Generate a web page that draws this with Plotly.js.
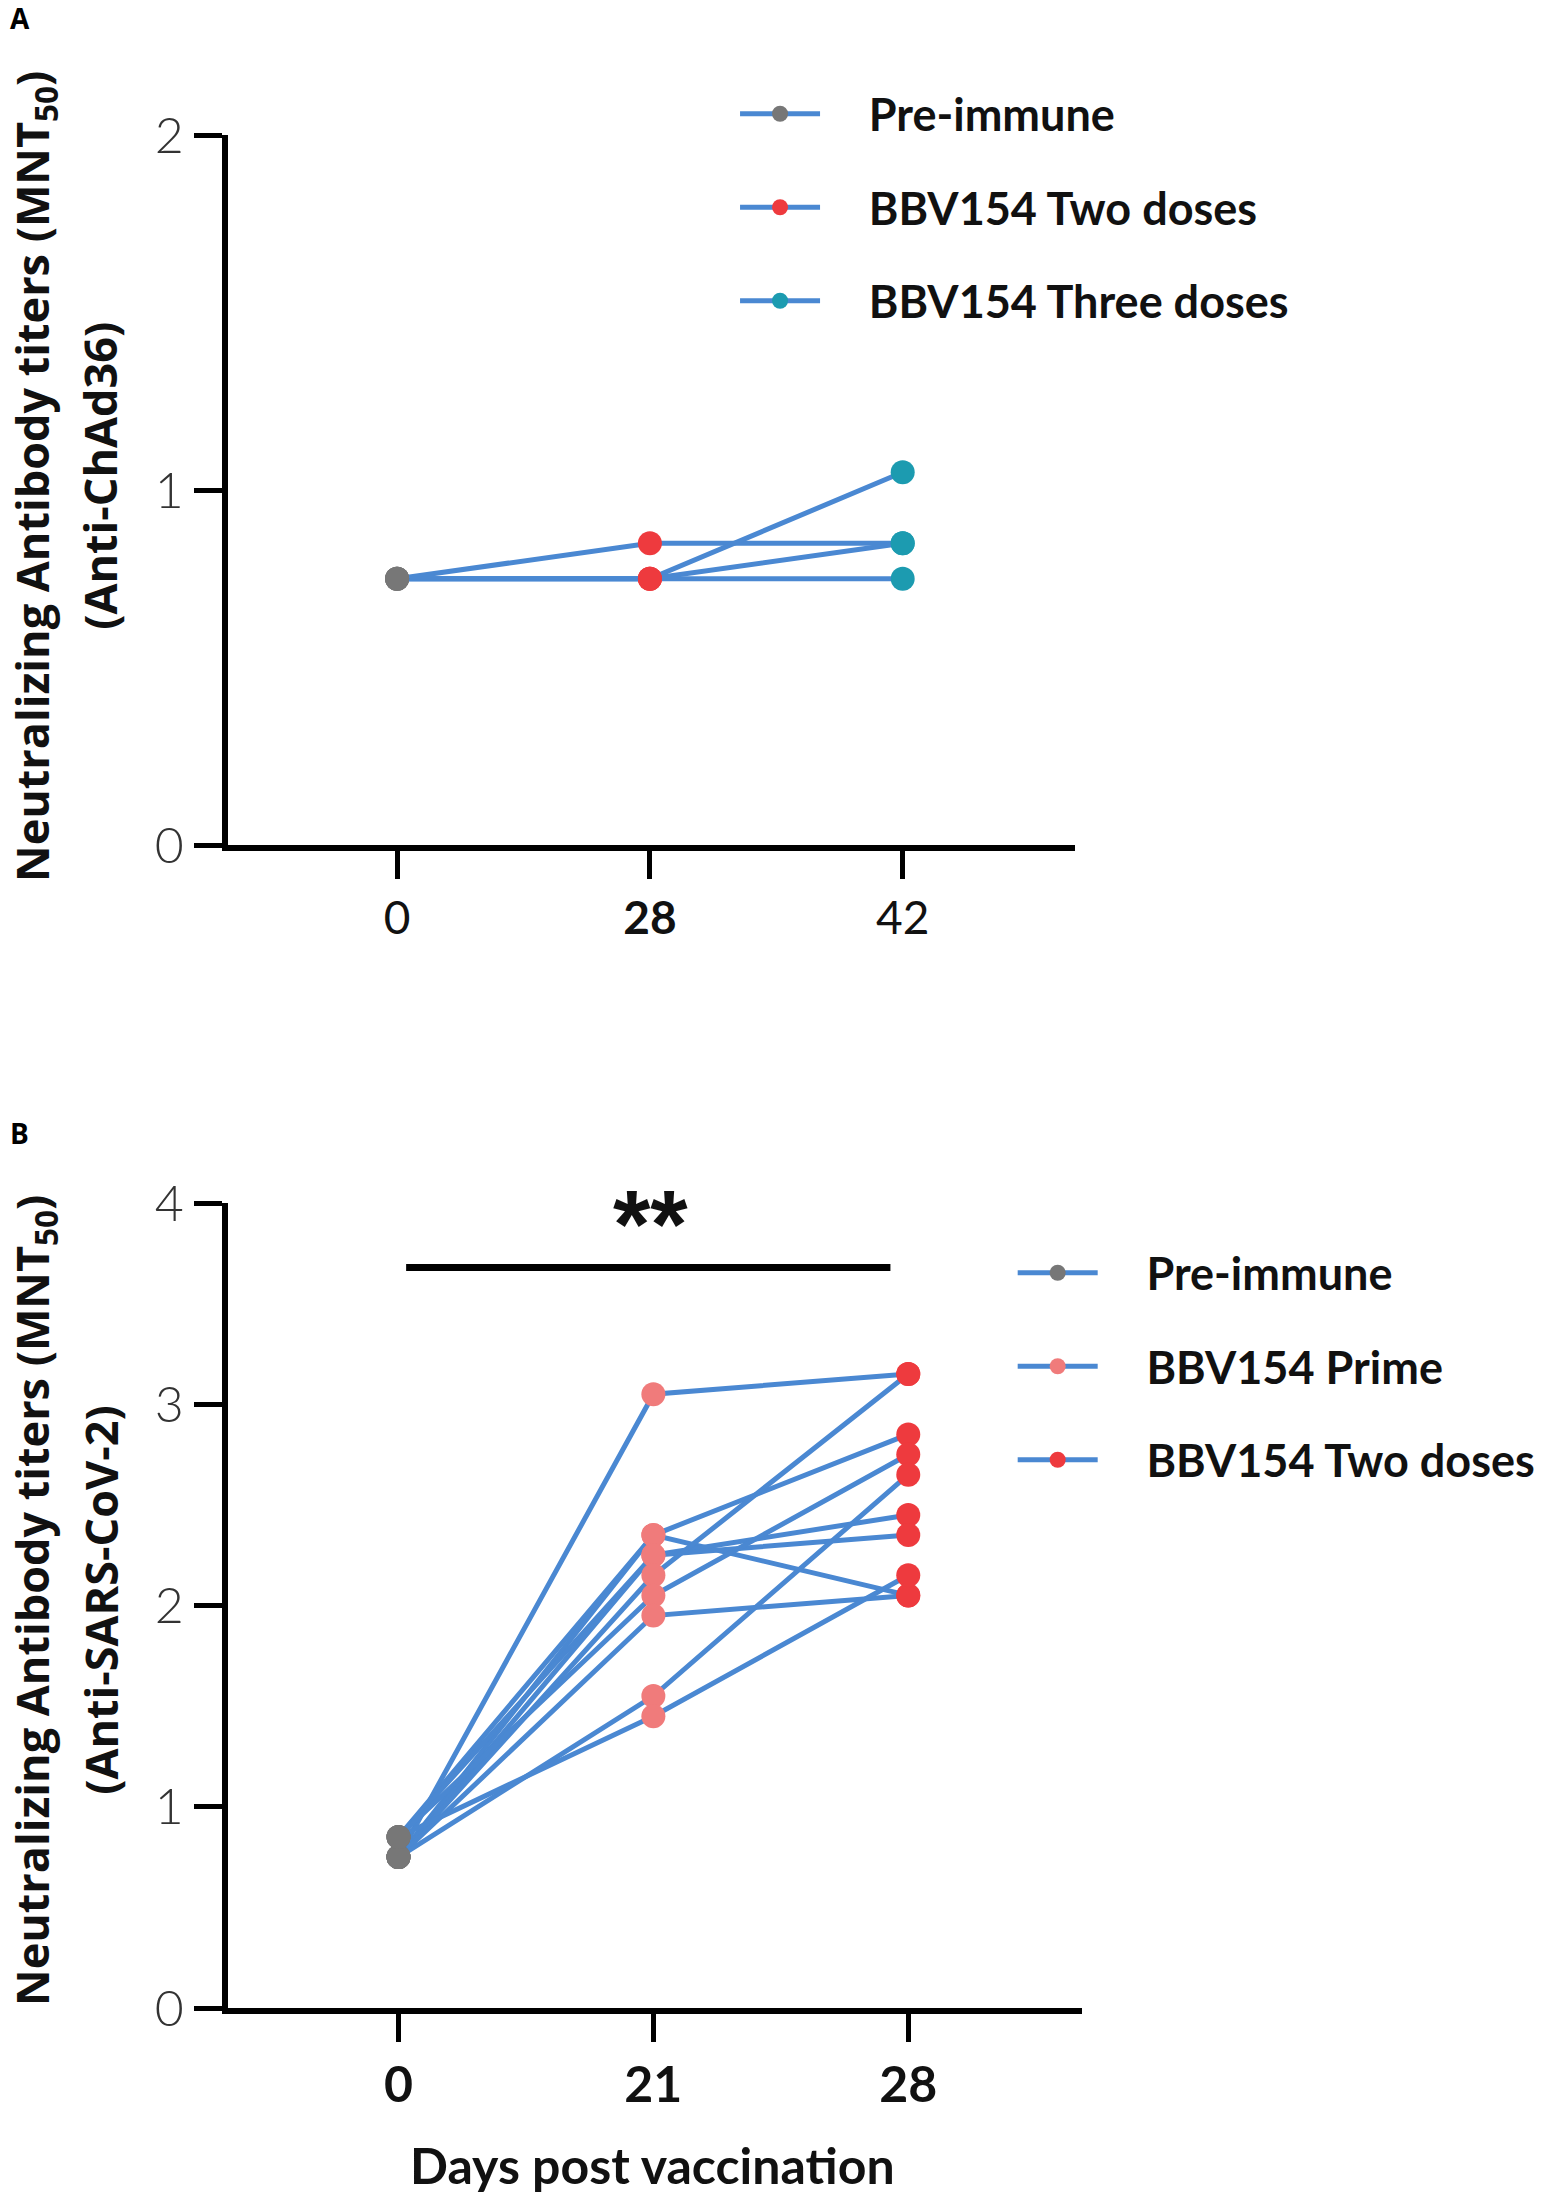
<!DOCTYPE html>
<html>
<head>
<meta charset="utf-8">
<script src="https://cdn.plot.ly/plotly-3.0.1.min.js"></script>
<style>
  body { margin: 0; background: #fff; }
  #graph { width: 1541px; height: 2200px; }
</style>
</head>
<body>
<div id="graph"></div>
<script>
/* ----- Data: panel A (anti-ChAd36) ----- */
var daysA = ['0', '28', '42'];
var preImmuneA = [0.75, 0.75, 0.75, 0.75];
var twoDosesA = [0.85, 0.75, 0.75, 0.75];
var threeDosesA = [0.85, 1.05, 0.85, 0.75];
var namesA = ['Pre-immune', 'BBV154 Two doses', 'BBV154 Three doses'];
var tickTextA = ['0', '<b>28</b>', '42'];
var yTicksA = [0, 1, 2];

/* ----- Data: panel B (anti-SARS-CoV-2) ----- */
var daysB = ['0', '21', '28'];
var preImmuneB = [0.75, 0.85, 0.75, 0.85, 0.75, 0.75, 0.85, 0.75, 0.75, 0.85];
var primeB = [3.05, 2.35, 2.35, 2.25, 2.25, 2.15, 2.05, 1.95, 1.55, 1.45];
var twoDosesB = [3.15, 2.85, 2.05, 2.45, 2.35, 3.15, 2.75, 2.05, 2.65, 2.15];
var namesB = ['Pre-immune', 'BBV154 Prime', 'BBV154 Two doses'];
var tickTextB = ['<b>0</b>', '<b>21</b>', '<b>28</b>'];
var yTicksB = [0, 1, 2, 3, 4];

/* ----- Styles ----- */
var LINE_BLUE = '#4a88d2';
var GREY = '#777777';
var PINK = '#f07b7b';
var RED = '#ee3a3e';
var TEAL = '#1c9bb0';
var LEGEND_PAD = '\u00a0\u00a0\u00a0\u00a0';

var W = 1541, H = 2200;
function px(x) { return x / W; }
function py(y) { return 1 - y / H; }

/**
 * One line per subject, joining its value at each time point.
 */
function subjectLines(days, groups, xa, ya) {
    var traces = [];
    for (var i = 0; i < groups[0].length; i++) {
        traces.push({
            x: days,
            y: groups.map(function(g) { return g[i]; }),
            xaxis: xa, yaxis: ya,
            mode: 'lines',
            line: {color: LINE_BLUE, width: 5},
            showlegend: false,
            hoverinfo: 'skip'
        });
    }
    return traces;
}

/**
 * The dots of one group; nulls keep them unconnected so the legend
 * still shows the line-and-dot symbol.
 */
function groupDots(day, values, name, color, legendId, xa, ya) {
    var xs = [], ys = [];
    values.forEach(function(v) { xs.push(day, day); ys.push(v, null); });
    return {
        x: xs, y: ys,
        xaxis: xa, yaxis: ya,
        name: LEGEND_PAD + name,
        legend: legendId,
        legendgroup: legendId + name,
        mode: 'lines+markers',
        line: {color: LINE_BLUE, width: 5},
        marker: {color: color, size: 24},
        connectgaps: false
    };
}

var groupsA = [preImmuneA, twoDosesA, threeDosesA];
var groupsB = [preImmuneB, primeB, twoDosesB];
var coloursA = [GREY, RED, TEAL];
var coloursB = [GREY, PINK, RED];

var data = [].concat(
    subjectLines(daysA, groupsA, 'x', 'y'),
    subjectLines(daysB, groupsB, 'x2', 'y2')
);
groupsA.forEach(function(g, k) {
    data.push(groupDots(daysA[k], g, namesA[k], coloursA[k], 'legend', 'x', 'y'));
});
groupsB.forEach(function(g, k) {
    data.push(groupDots(daysB[k], g, namesB[k], coloursB[k], 'legend2', 'x2', 'y2'));
});

/* ----- Axes ----- */
function xAxis(days, tickText, domain, anchor, size) {
    return {
        domain: domain,
        anchor: anchor,
        type: 'category',
        categoryorder: 'array',
        categoryarray: days,
        range: [-0.67, 2.68],
        tickmode: 'array',
        tickvals: days,
        ticktext: tickText,
        ticks: 'outside', ticklen: 28, tickwidth: 5, tickcolor: '#000',
        showline: true, linewidth: 6, linecolor: '#000',
        showgrid: false, zeroline: false,
        tickfont: {family: 'Lato', size: size, color: '#111'},
        fixedrange: true
    };
}
function yAxis(ticks, domain, anchor) {
    return {
        domain: domain,
        anchor: anchor,
        range: [0, ticks[ticks.length - 1]],
        tickmode: 'array',
        tickvals: ticks,
        ticks: 'outside', ticklen: 28, tickwidth: 5, tickcolor: '#000',
        showline: true, linewidth: 6, linecolor: '#000',
        showgrid: false, zeroline: false,
        tickfont: {family: 'Lato', size: 50, color: '#333', weight: 300},
        fixedrange: true
    };
}

var titleFont = {family: 'Open Sans', size: 45, color: '#111'};
var legendFont = {family: 'Lato', size: 45, color: '#111', weight: 'bold'};

function label(text, x, y, font, angle) {
    return {
        text: text, xref: 'paper', yref: 'paper', x: px(x), y: py(y),
        xanchor: 'center', yanchor: 'middle', textangle: angle || 0,
        showarrow: false, font: font
    };
}

var layout = {
    width: W, height: H,
    margin: {l: 0, r: 0, t: 0, b: 0},
    paper_bgcolor: '#fff', plot_bgcolor: '#fff',
    xaxis: xAxis(daysA, tickTextA, [px(228), px(1076)], 'y', 46),
    yaxis: yAxis(yTicksA, [py(845), py(135)], 'x'),
    xaxis2: xAxis(daysB, tickTextB, [px(228), px(1083)], 'y2', 50),
    yaxis2: yAxis(yTicksB, [py(2008), py(1203)], 'x2'),
    legend: {
        x: px(736), y: py(78), xanchor: 'left', yanchor: 'top',
        font: legendFont, bgcolor: 'rgba(0,0,0,0)',
        itemwidth: 80, tracegroupgap: 32, itemclick: false
    },
    legend2: {
        x: px(1014), y: py(1237), xanchor: 'left', yanchor: 'top',
        font: legendFont, bgcolor: 'rgba(0,0,0,0)',
        itemwidth: 80, tracegroupgap: 32, itemclick: false
    },
    shapes: [{
        type: 'line', xref: 'x2', yref: 'y2',
        x0: 0.03, x1: 1.93, y0: 3.68, y1: 3.68,
        line: {color: '#000', width: 7}
    }],
    annotations: [
        label('<b>A</b>', 20, 18, {family: 'Open Sans', size: 28, color: '#000'}),
        label('<b>B</b>', 20, 1133, {family: 'Open Sans', size: 28, color: '#000'}),
        label('<b>Neutralizing Antibody titers (MNT<sub>50</sub>)</b>', 34, 476, titleFont, -90),
        label('<b>(Anti-ChAd36)</b>', 100, 476, titleFont, -90),
        label('<b>Neutralizing Antibody titers (MNT<sub>50</sub>)</b>', 34, 1600, titleFont, -90),
        label('<b>(Anti-SARS-CoV-2)</b>', 100, 1600, titleFont, -90),
        label('<b>Days post vaccination</b>', 653, 2165, {family: 'Lato', size: 50, color: '#111'}),
        {text: '<b>**</b>', xref: 'x2', yref: 'y2', x: 0.99, y: 3.9,
         xanchor: 'center', yanchor: 'middle',
         showarrow: false, font: {family: 'Liberation Sans', size: 96, color: '#111'}}
    ]
};

var graph = document.getElementById('graph');
Plotly.newPlot(graph, data, layout, {staticPlot: true});
</script>
</body>
</html>
